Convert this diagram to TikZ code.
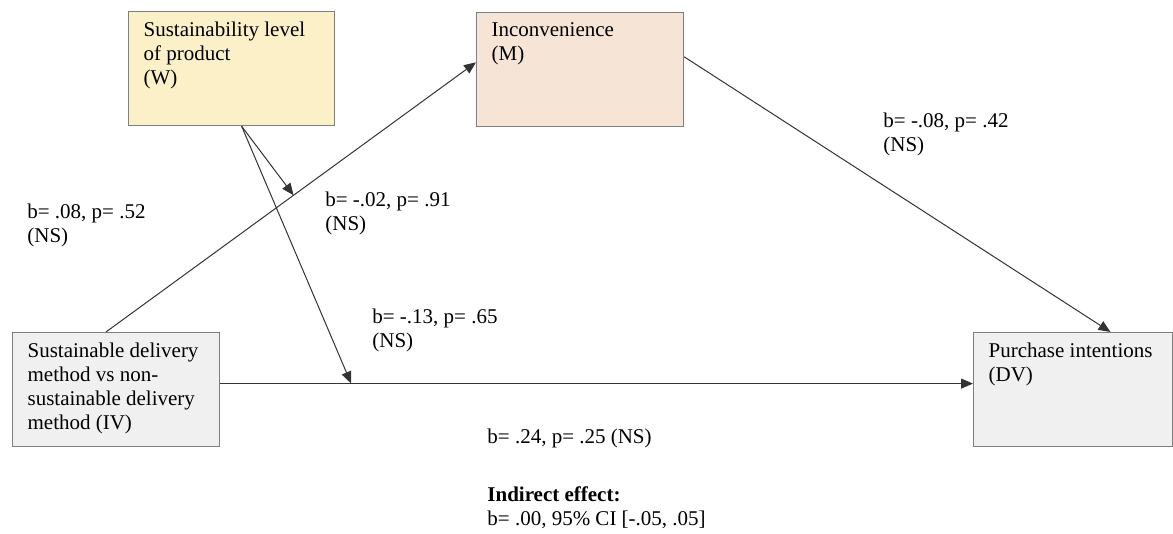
\documentclass[tikz,border=0pt]{standalone}
\usepackage{fontspec}
\setmainfont{Liberation Serif}
\usetikzlibrary{arrows.meta,calc}

\definecolor{wfill}{HTML}{FCF0C9}
\definecolor{mfill}{HTML}{F6E4D7}
\definecolor{vfill}{HTML}{F0F0F0}
\definecolor{boxline}{HTML}{7F7F7F}

\newcommand{\boxlines}[2]{\parbox[t][47pt][t]{#1}{\raggedright #2}}

\tikzset{
  varbox/.style={draw=boxline,line width=0.6pt,anchor=north west,inner xsep=7.5pt,inner ysep=5pt,font=\fontsize{10.5pt}{12pt}\selectfont},
  conn/.style={draw=black!80,line width=0.5pt,-{Triangle[length=6pt,width=5pt]}},
  coef/.style={anchor=base west,align=left,inner sep=0pt,font=\fontsize{10.5pt}{12pt}\selectfont}
}

\begin{document}
\begin{tikzpicture}[x=0.5pt,y=-0.5pt]
\useasboundingbox (0,0) rectangle (1173,534);

% Variable boxes
\node[varbox,fill=wfill] (w) at (128,11) {\boxlines{88pt}{Sustainability level\\of product\\(W)}};
\node[varbox,fill=mfill] (m) at (476,12) {\boxlines{88.5pt}{Inconvenience\\(M)}};
\node[varbox,fill=vfill] (iv) at (12,332) {\boxlines{88.5pt}{Sustainable delivery\\method vs non-\\sustainable delivery\\method (IV)}};
\node[varbox,fill=vfill] (dv) at (973,332) {\boxlines{84.5pt}{Purchase intentions\\(DV)}};

% Paths
\draw[conn] (iv.100) -- (m.176);
\draw[conn] (m.7) -- (dv.57);
\draw[conn] ([yshift=3pt]iv.east) -- ([yshift=3pt]dv.west);

% Moderation
\coordinate (wa) at ($(iv.100)!0.507!(m.176)$);
\coordinate (wb) at ($([yshift=3pt]iv.east)!0.174!([yshift=3pt]dv.west)$);
\draw[conn] ([xshift=5pt]w.south) -- (wa);
\draw[conn] ([xshift=5pt]w.south) -- (wb);

% Coefficients (base = last line)
\node[coef] (apath) at (27,243) {b= .08, p= .52\\(NS)};
\node[coef] (wapath) at (325,231) {b= -.02, p= .91\\(NS)};
\node[coef] (wbpath) at (372,348) {b= -.13, p= .65\\(NS)};
\node[coef] (bpath) at (883,152) {b= -.08, p= .42\\(NS)};
\node[coef] (cpath) at (487,443) {b= .24, p= .25 (NS)};
\node[coef] (indirect) at (487,525) {\textbf{Indirect effect:}\\b= .00, 95\% CI [-.05, .05]};
\end{tikzpicture}
\end{document}
